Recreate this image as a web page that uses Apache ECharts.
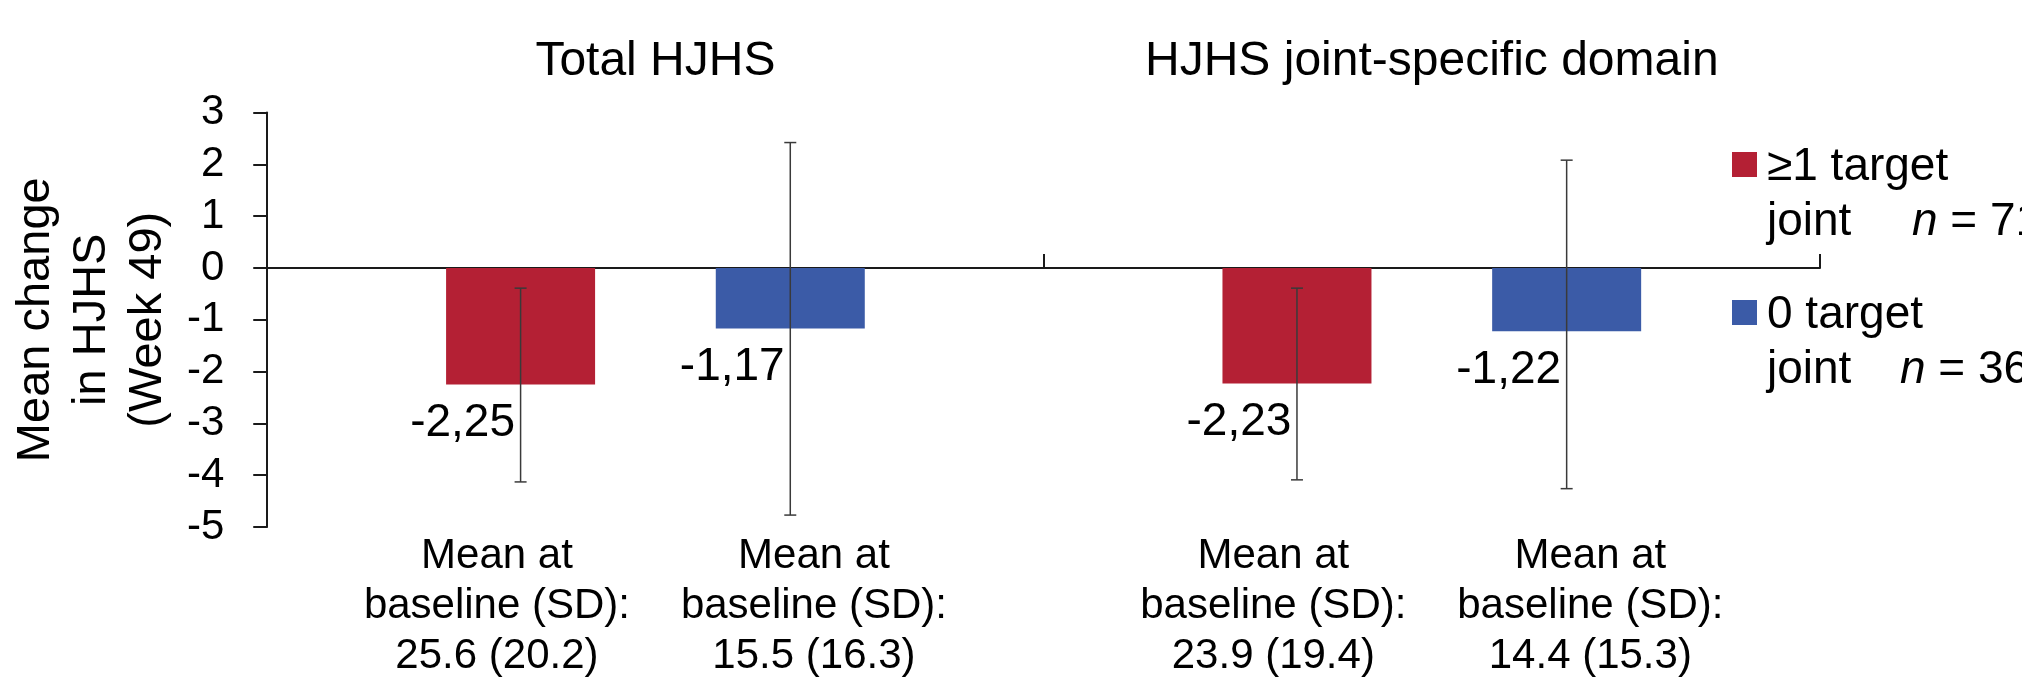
<!DOCTYPE html>
<html>
<head>
<meta charset="utf-8">
<script src="https://cdn.jsdelivr.net/npm/echarts@6/dist/echarts.min.js"></script>
<style>
  html, body { margin: 0; padding: 0; background: #fff; }
  #chart { width: 2022px; height: 682px; }
</style>
</head>
<body>
<div id="chart"></div>
<script>
// ---- data ----
const categories = ['Total HJHS', 'HJHS joint-specific domain'];
const groupNames = ['≥1 target joint', '0 target joint'];
const groupN = [71, 36];
const targetValues = [-2.25, -2.23];
const noTargetValues = [-1.17, -1.22];
const targetErrLow = [-4.13, -4.09];
const targetErrHigh = [-0.39, -0.39];
const noTargetErrLow = [-4.77, -4.26];
const noTargetErrHigh = [2.42, 2.08];
const targetBaseMean = [25.6, 23.9];
const targetBaseSD = [20.2, 19.4];
const noTargetBaseMean = [15.5, 14.4];
const noTargetBaseSD = [16.3, 15.3];
const yMin = -5, yMax = 3, yStep = 1;

// ---- styling ----
const FONT = 'Liberation Sans, Arial, sans-serif';
const RED = '#B42034';
const BLUE = '#3B5BA7';
const BAR_W = 149;
const BAR_GAP = 0.81;
const BAR_OFF = BAR_W * (1 + BAR_GAP) / 2;

const fmt = v => v.toFixed(2).replace('.', ',');

function errSeries(low, high, sign) {
  return {
    type: 'custom',
    xAxisIndex: 0, yAxisIndex: 0,
    z: 10,
    silent: true,
    data: low.map((l, i) => [i, l, high[i]]),
    encode: { x: 0, y: [1, 2] },
    renderItem: function (params, api) {
      const c = api.value(0);
      const x = api.coord([c, 0])[0] + sign * BAR_OFF;
      const yl = api.coord([c, api.value(1)])[1];
      const yh = api.coord([c, api.value(2)])[1];
      const cap = 6;
      const st = { stroke: '#3a3a3a', lineWidth: 1.5 };
      return {
        type: 'group',
        children: [
          { type: 'line', shape: { x1: x, y1: yl, x2: x, y2: yh }, style: st },
          { type: 'line', shape: { x1: x - cap, y1: yl, x2: x + cap, y2: yl }, style: st },
          { type: 'line', shape: { x1: x - cap, y1: yh, x2: x + cap, y2: yh }, style: st }
        ]
      };
    }
  };
}

const barLabel = {
  show: true,
  position: 'bottom',
  distance: 0,
  offset: [-58, 16],
  fontFamily: FONT,
  fontSize: 46,
  lineHeight: 46,
  color: '#000',
  formatter: p => fmt(p.value)
};

const bottomText = categories.map((c, i) =>
  '{c|Mean at}{c|Mean at}\n' +
  '{c|baseline (SD):}{c|baseline (SD):}\n' +
  '{c|' + targetBaseMean[i].toFixed(1) + ' (' + targetBaseSD[i].toFixed(1) + ')}' +
  '{c|' + noTargetBaseMean[i].toFixed(1) + ' (' + noTargetBaseSD[i].toFixed(1) + ')}'
);

const legendJointWidth = [145, 133];

const chart = echarts.init(document.getElementById('chart'));
chart.setOption({
  animation: false,
  backgroundColor: '#fff',
  grid: { left: 264, right: 202, top: 112.5, bottom: 155, containLabel: false },
  legend: {
    orient: 'vertical',
    left: 1732,
    top: 79,
    padding: 0,
    itemWidth: 25,
    itemHeight: 25,
    itemGap: -23,
    icon: 'rect',
    data: groupNames,
    formatter: function (name) {
      const i = groupNames.indexOf(name);
      const first = name.replace(' joint', '');
      return first + '\n{j' + i + '|joint}{i|n}{t| = ' + groupN[i] + '}';
    },
    textStyle: {
      fontFamily: FONT, fontSize: 46, lineHeight: 55, color: '#000',
      padding: [61, 0, 0, 5],
      rich: {
        j0: { fontFamily: FONT, fontSize: 46, lineHeight: 55, width: legendJointWidth[0], color: '#000' },
        j1: { fontFamily: FONT, fontSize: 46, lineHeight: 55, width: legendJointWidth[1], color: '#000' },
        i: { fontFamily: FONT, fontSize: 46, lineHeight: 55, fontStyle: 'italic', color: '#000' },
        t: { fontFamily: FONT, fontSize: 46, lineHeight: 55, color: '#000' }
      }
    }
  },
  xAxis: [
    {
      type: 'category',
      data: categories,
      position: 'bottom',
      axisLine: { show: true, onZero: true, lineStyle: { color: '#1a1a1a', width: 2 } },
      axisTick: { show: true, inside: true, length: 14, alignWithLabel: false, lineStyle: { color: '#1a1a1a', width: 2 } },
      axisLabel: { show: false },
      splitLine: { show: false }
    },
    {
      type: 'category',
      data: categories,
      position: 'top',
      axisLine: { show: false },
      axisTick: { show: false },
      axisLabel: { show: true, margin: 26.5, fontFamily: FONT, fontSize: 48, lineHeight: 48, color: '#000' },
      splitLine: { show: false }
    },
    {
      type: 'category',
      data: categories,
      position: 'bottom',
      axisLine: { show: false, onZero: false },
      axisTick: { show: false },
      axisLabel: {
        show: true, margin: 4, interval: 0,
        formatter: (v, i) => bottomText[i],
        rich: { c: { fontFamily: FONT, fontSize: 42, lineHeight: 50, width: 317, align: 'center', color: '#000' } }
      },
      splitLine: { show: false }
    }
  ],
  yAxis: {
    type: 'value',
    min: yMin, max: yMax, interval: yStep,
    name: 'Mean change\nin HJHS\n(Week 49)',
    nameLocation: 'middle',
    nameGap: 81.5,
    nameTextStyle: { fontFamily: FONT, fontSize: 47, lineHeight: 56, color: '#000' },
    axisLine: { show: true, lineStyle: { color: '#1a1a1a', width: 2 } },
    axisTick: { show: true, length: 14, lineStyle: { color: '#1a1a1a', width: 2 } },
    axisLabel: { margin: 43, fontFamily: FONT, fontSize: 42, color: '#000' },
    splitLine: { show: false }
  },
  series: [
    {
      name: groupNames[0], type: 'bar', xAxisIndex: 0, yAxisIndex: 0,
      data: targetValues, barWidth: BAR_W, barGap: (BAR_GAP * 100) + '%',
      itemStyle: { color: RED }, label: barLabel, z: 2
    },
    {
      name: groupNames[1], type: 'bar', xAxisIndex: 0, yAxisIndex: 0,
      data: noTargetValues, barWidth: BAR_W, barGap: (BAR_GAP * 100) + '%',
      itemStyle: { color: BLUE }, label: barLabel, z: 2
    },
    errSeries(targetErrLow, targetErrHigh, -1),
    errSeries(noTargetErrLow, noTargetErrHigh, 1)
  ]
});
</script>
</body>
</html>
